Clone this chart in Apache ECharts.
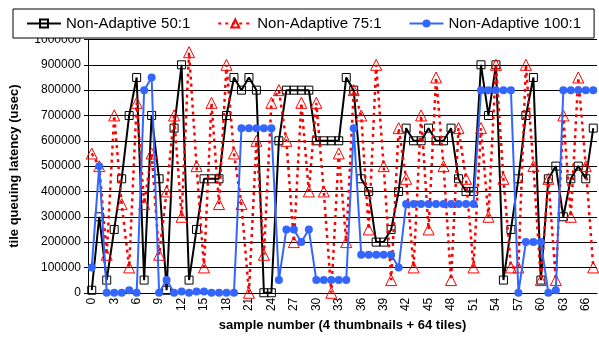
<!DOCTYPE html>
<html>
<head>
<meta charset="utf-8">
<script src="https://cdn.jsdelivr.net/npm/echarts@6/dist/echarts.min.js"></script>
<style>
html,body{margin:0;padding:0;background:#fff;}
#c{width:599px;height:337px;}
</style>
</head>
<body>
<div id="c"></div>
<script>
const categories = ['0','1','2','3','4','5','6','7','8','9','10','11','12','13','14','15','16','17','18','19','20','21','22','23','24','25','26','27','28','29','30','31','32','33','34','35','36','37','38','39','40','41','42','43','44','45','46','47','48','49','50','51','52','53','54','55','56','57','58','59','60','61','62','63','64','65','66','67'];

const nonAdaptive50 = [10000,300000,50000,250000,450000,700000,850000,50000,700000,450000,
  10000,650000,900000,50000,250000,450000,450000,450000,700000,850000,
  800000,850000,800000,0,0,600000,800000,800000,800000,800000,
  600000,600000,600000,600000,850000,800000,450000,400000,200000,200000,
  250000,400000,650000,600000,600000,650000,600000,600000,650000,450000,
  400000,400000,900000,700000,900000,50000,250000,450000,700000,850000,
  50000,450000,500000,300000,450000,500000,450000,650000];

const nonAdaptive75 = [550000,500000,150000,700000,350000,100000,750000,350000,550000,150000,
  400000,700000,300000,950000,500000,100000,750000,350000,900000,550000,
  350000,0,600000,150000,750000,800000,600000,200000,750000,400000,
  750000,400000,0,550000,200000,800000,700000,250000,900000,500000,
  50000,650000,450000,100000,700000,250000,850000,500000,50000,650000,
  450000,100000,650000,300000,900000,450000,100000,100000,900000,500000,
  50000,450000,50000,700000,300000,850000,500000,100000];

const nonAdaptive100 = [100000,500000,0,0,0,10000,0,800000,850000,0,
  50000,0,5000,0,5000,5000,0,0,0,0,
  650000,650000,650000,650000,650000,50000,250000,250000,200000,250000,
  50000,50000,50000,50000,50000,650000,150000,150000,150000,150000,
  150000,100000,350000,350000,350000,350000,350000,350000,350000,350000,
  350000,350000,800000,800000,800000,800000,800000,0,200000,200000,
  200000,0,10000,800000,800000,800000,800000,800000];

const seriesNames = ['Non-Adaptive 50:1','Non-Adaptive 75:1','Non-Adaptive 100:1'];
const yMin = 0, yMax = 1000000, yStep = 100000;

const chart = echarts.init(document.getElementById('c'), null, {renderer:'canvas'});
const font = 'Liberation Sans, Arial, sans-serif';
chart.setOption({
  animation:false,
  backgroundColor:'#fff',
  textStyle:{fontFamily:font},
  legend:{
    left:13, top:9,
    padding:[7,13,7,13],
    itemGap:27,
    itemWidth:34, itemHeight:10,
    borderColor:'#000', borderWidth:1,
    backgroundColor:'#fff',
    textStyle:{fontFamily:font,fontSize:15,color:'#000'},
    data:seriesNames,
    z:10
  },
  grid:{left:86,right:2,top:39.5,bottom:38.7,containLabel:false},
  xAxis:{
    type:'category',
    data:categories,
    boundaryGap:true,
    name:'sample number (4 thumbnails + 64 tiles)',
    nameLocation:'middle',
    nameGap:24,
    nameTextStyle:{fontFamily:font,fontSize:13,fontWeight:'bold',color:'#000'},
    axisLine:{lineStyle:{color:'#000',width:1}},
    axisTick:{interval:0,length:4,lineStyle:{color:'#000'}},
    axisLabel:{interval:2,rotate:90,fontSize:12,color:'#000',margin:5,fontFamily:font},
    splitLine:{show:false}
  },
  yAxis:{
    type:'value',
    min:yMin,max:yMax,interval:yStep,
    name:'tile queuing latency (usec)',
    nameLocation:'middle',
    nameGap:67,
    nameRotate:90,
    nameTextStyle:{fontFamily:font,fontSize:13,fontWeight:'bold',color:'#000'},
    axisLine:{show:true,lineStyle:{color:'#000',width:1}},
    axisTick:{show:true,length:4,lineStyle:{color:'#000'}},
    axisLabel:{fontSize:12,color:'#000',margin:7,fontFamily:font,formatter:v=>String(v)},
    splitLine:{show:true,lineStyle:{color:'#000',width:1}}
  },
  series:[
    {
      name:seriesNames[0],type:'line',data:nonAdaptive50,
      symbol:'rect',symbolSize:8,showAllSymbol:true,
      lineStyle:{color:'#000',width:2},
      itemStyle:{color:'rgba(255,255,255,0)',borderColor:'#000',borderWidth:1},
      z:2
    },
    {
      name:seriesNames[1],type:'line',data:nonAdaptive75,
      symbol:'triangle',symbolSize:11,showAllSymbol:true,
      lineStyle:{color:'#ff0000',width:2.5,type:[3,4]},
      itemStyle:{color:'rgba(255,255,255,0)',borderColor:'#ff0000',borderWidth:1},
      z:3
    },
    {
      name:seriesNames[2],type:'line',data:nonAdaptive100,
      symbol:'circle',symbolSize:8,showAllSymbol:true,
      lineStyle:{color:'#3366ff',width:2},
      itemStyle:{color:'#3366ff'},
      z:4
    }
  ]
});
</script>
</body>
</html>
